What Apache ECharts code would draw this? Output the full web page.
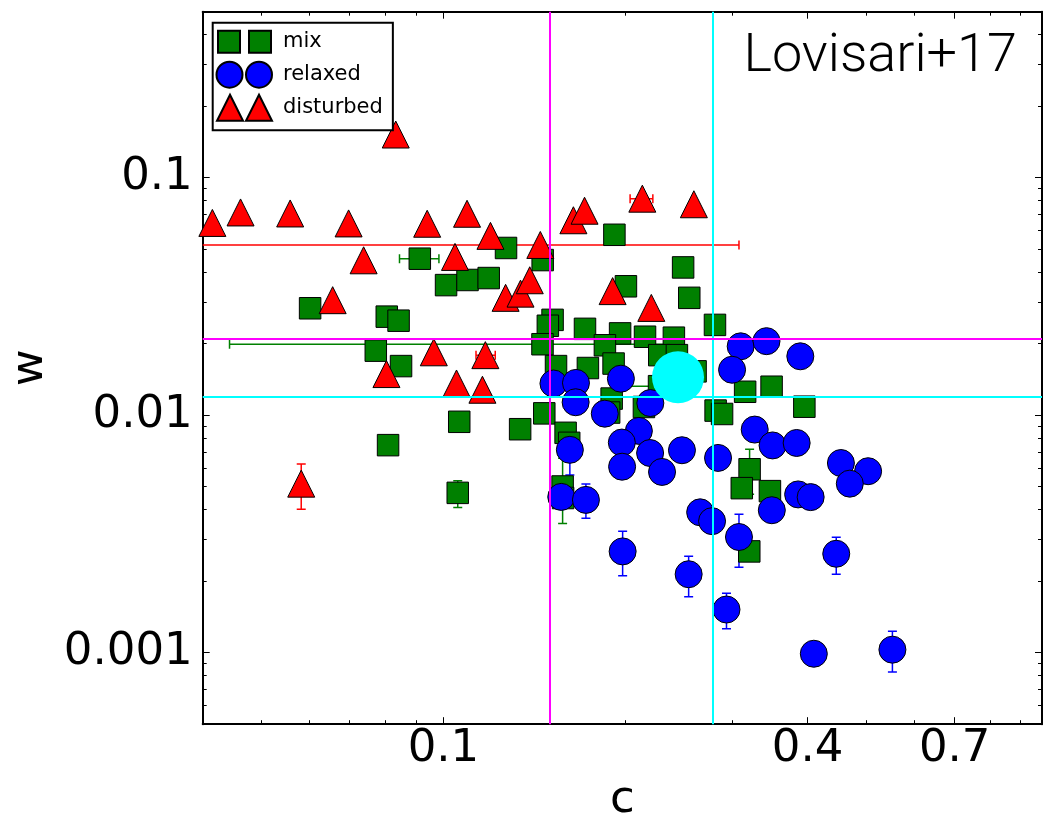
<!DOCTYPE html>
<html>
<head>
<meta charset="utf-8">
<script src="https://cdn.jsdelivr.net/npm/echarts@6.0.0/dist/echarts.min.js"></script>
<style>
html,body{margin:0;padding:0;background:#fff;}
#chart{width:1045px;height:819px;}
</style>
</head>
<body>
<div id="chart"></div>
<script>
// ---------------- data ----------------
// [c, w]
const mixPoints = [
  [0.0602,0.0282],[0.0806,0.0260],[0.0843,0.0250],[0.0914,0.0456],[0.1010,0.0353],[0.1096,0.0371],
  [0.1188,0.0378],[0.1269,0.0506],[0.1459,0.0450],[0.1917,0.0575],[0.2490,0.0419],[0.2003,0.0349],
  [0.2549,0.0312],[0.2811,0.0240],[0.1515,0.0252],[0.1488,0.0238],[0.1714,0.0231],[0.1959,0.0221],
  [0.2154,0.0214],[0.2404,0.0212],[0.1458,0.0199],[0.1849,0.0197],[0.1535,0.0161],[0.1733,0.0158],
  [0.1911,0.0165],[0.2274,0.0179],[0.2432,0.0179],[0.2611,0.0153],[0.1897,0.01175],[0.1879,0.01026],
  [0.2145,0.01083],[0.2272,0.01325],[0.3153,0.01255],[0.3487,0.01318],[0.2818,0.01046],[0.2888,0.01012],
  [0.3950,0.01086],[0.1468,0.01018],[0.1339,0.00873],[0.1592,0.00843],[0.1614,0.00765],[0.1574,0.00501],
  [0.1577,0.00448],[0.1062,0.00938],[0.0810,0.00748],[0.1056,0.00471],[0.0773,0.0187],[0.0851,0.0161],
  [0.3207,0.00592],[0.3113,0.00493],[0.3465,0.00479],[0.3203,0.00267]
];
const relaxedPoints = [
  [0.310,0.0195],[0.342,0.0205],[0.389,0.0177],[0.300,0.01554],[0.152,0.0136],[0.1656,0.01368],
  [0.1965,0.01425],[0.1654,0.01134],[0.1848,0.01015],[0.2198,0.01125],[0.2104,0.00859],[0.1972,0.00767],
  [0.2196,0.00693],[0.2479,0.00712],[0.1974,0.00607],[0.2298,0.00577],[0.1618,0.00715],[0.2844,0.00661],
  [0.327,0.0087],[0.350,0.00746],[0.3836,0.00764],[0.454,0.00629],[0.5035,0.00581],[0.4696,0.00515],
  [0.3858,0.00464],[0.4046,0.00452],[0.349,0.00398],[0.2657,0.0039],[0.278,0.00358],[0.308,0.00307],
  [0.1566,0.00453],[0.172,0.0044],[0.1978,0.00267],[0.2543,0.00214],[0.2937,0.00152],[0.446,0.00261],
  [0.4095,0.00099],[0.5523,0.00103]
];
const disturbedPoints = [
  [0.0415,0.0645],[0.0462,0.0714],[0.0558,0.0707],[0.0697,0.0642],[0.0738,0.0449],[0.0656,0.0305],
  [0.0834,0.152],[0.094,0.064],[0.1094,0.0705],[0.1196,0.0569],[0.1045,0.0464],[0.0964,0.0184],
  [0.1173,0.0179],[0.0805,0.0149],[0.1051,0.0136],[0.116,0.0128],[0.1267,0.0312],[0.1341,0.0325],
  [0.1389,0.037],[0.1446,0.0521],[0.164,0.0662],[0.1711,0.0726],[0.1904,0.0333],[0.2132,0.0816],
  [0.2206,0.0283],[0.2594,0.0773],[0.0582,0.00515]
];
// error bars: [c, w, cLow, cHigh, wLow, wHigh]  (null = no bar)
const mixErrors = [
  [0.0914,0.0456,0.0846,0.0983,null,null],
  [0.1458,0.0199,0.0443,0.247,null,null],
  [0.2272,0.01325,0.1982,0.256,null,null],
  [0.1574,0.00501,null,null,0.0035,0.00659],
  [0.1056,0.00471,null,null,0.00409,0.0053],
  [0.3207,0.00592,null,null,0.00465,0.00719]
];
const relaxedErrors = [
  [0.1618,0.00715,null,null,0.0056,0.00909],
  [0.172,0.0044,null,null,0.00368,0.00513],
  [0.1978,0.00267,null,null,0.00211,0.00325],
  [0.2543,0.00214,null,null,0.00172,0.00255],
  [0.2937,0.00152,null,null,0.00126,0.00178],
  [0.308,0.00307,null,null,0.00229,0.00383],
  [0.446,0.00261,null,null,0.00214,0.00306],
  [0.5523,0.00103,null,null,0.00083,0.00123]
];
const disturbedErrors = [
  [0.1446,0.0521,0.03,0.308,null,null],
  [0.2132,0.0816,0.2035,0.2219,null,null],
  [0.1173,0.0179,0.1132,0.1218,null,null],
  [0.0582,0.00515,null,null,0.00402,0.00623]
];
// reference (Lovisari+17) point and median lines
const refPoint = [[0.2442,0.01445]];
const magentaC = 0.150, cyanC = 0.2788;
const magentaW = 0.0209, cyanW = 0.01193;

const seriesNames = ['mix','relaxed','disturbed'];
const xRange = [0.04, 0.976];
const yRange = [0.0005, 0.5];
const xMinorTicks = [0.05,0.06,0.07,0.08,0.09,0.2,0.3,0.5,0.6,0.8,0.9];
const xMajorTicks = [0.1,0.4,0.7];
const xTickLabels = ['0.1','0.4','0.7'];
const yMinorTicks = [0.0006,0.0007,0.0008,0.0009,0.002,0.003,0.004,0.005,0.006,0.007,0.008,0.009,
                     0.02,0.03,0.04,0.05,0.06,0.07,0.08,0.09,0.2,0.3,0.4];
const yMajorTicks = [0.001,0.01,0.1];
const yTickLabels = ['0.001','0.01','0.1'];
const xName = 'c', yName = 'w', annotation = 'Lovisari+17';

// ---------------- chart ----------------
const FONT = 'DejaVu Sans';
function lookup(vals, labels) {
  return function (v) {
    for (let i = 0; i < vals.length; i++) {
      if (Math.abs(vals[i] - v) / vals[i] < 1e-6) return labels[i];
    }
    return '';
  };
}
function axis(kind, pos, ticks, len, showLine, withLabels) {
  const isX = kind === 'x';
  const range = isX ? xRange : yRange;
  const a = {
    type: 'log', logBase: 10, gridIndex: 0, position: pos,
    min: range[0], max: range[1],
    axisLine: {show: showLine, onZero: false, lineStyle: {color: '#000', width: 2}},
    axisTick: {show: true, inside: true, length: len, customValues: ticks, lineStyle: {color: '#000', width: 1}},
    splitLine: {show: false}, minorTick: {show: false}, minorSplitLine: {show: false},
    axisLabel: {show: false},
    axisPointer: {show: false}
  };
  if (withLabels) {
    a.axisLabel = {
      show: true,
      customValues: isX ? xMajorTicks : yMajorTicks,
      formatter: isX ? lookup(xMajorTicks, xTickLabels) : lookup(yMajorTicks, yTickLabels),
      margin: isX ? 3 : 10,
      fontFamily: FONT, fontSize: 45, color: '#000'
    };
    a.name = isX ? xName : yName;
    a.nameLocation = 'middle';
    a.nameGap = isX ? 54 : 146;
    a.nameTextStyle = {fontFamily: FONT, fontSize: 45, color: '#000'};
  }
  return a;
}

function errRenderer(color) {
  return function (params, api) {
    const c = api.value(0), w = api.value(1);
    const cLo = api.value(2), cHi = api.value(3), wLo = api.value(4), wHi = api.value(5);
    const cs = params.coordSys;
    const x0 = cs.x, x1 = cs.x + cs.width, y0 = cs.y, y1 = cs.y + cs.height;
    const cl = v => Math.max(x0, Math.min(x1, v));
    const clY = v => Math.max(y0, Math.min(y1, v));
    const style = {stroke: color, lineWidth: 1.5};
    const kids = [];
    const ok = v => v != null && isFinite(v) && v > 0;
    const half = 4.5;
    if (ok(cLo) && ok(cHi)) {
      const pa = api.coord([cLo, w]), pb = api.coord([cHi, w]);
      kids.push({type: 'line', shape: {x1: cl(pa[0]), y1: pa[1], x2: cl(pb[0]), y2: pb[1]}, style: style});
      [pa, pb].forEach(p => {
        if (p[0] >= x0 && p[0] <= x1) kids.push({type: 'line', shape: {x1: p[0], y1: p[1] - half, x2: p[0], y2: p[1] + half}, style: style});
      });
    }
    if (ok(wLo) && ok(wHi)) {
      const pa = api.coord([c, wLo]), pb = api.coord([c, wHi]);
      kids.push({type: 'line', shape: {x1: pa[0], y1: clY(pa[1]), x2: pb[0], y2: clY(pb[1])}, style: style});
      [pa, pb].forEach(p => {
        if (p[1] >= y0 && p[1] <= y1) kids.push({type: 'line', shape: {x1: p[0] - half, y1: p[1], x2: p[0] + half, y2: p[1]}, style: style});
      });
    }
    return {type: 'group', children: kids};
  };
}
function errSeries(name, data, color) {
  return {
    name: name, type: 'custom', xAxisIndex: 0, yAxisIndex: 0, clip: true, silent: true,
    renderItem: errRenderer(color), encode: {x: 0, y: 1},
    data: data.map(r => r.map(v => (v == null ? NaN : v))), animation: false
  };
}

const green = '#008000', blue = '#0000ff', red = '#ff0000';
const legendIcons = {
  mix: 'path://M0,0L0,0M57,27L57,27M2,2.5L24,2.5L24,24.5L2,24.5ZM33,2.5L55,2.5L55,24.5L33,24.5Z',
  relaxed: 'path://M0,0L0,0M57,27L57,27M0.5,13.5a13,13 0 1,0 26,0a13,13 0 1,0 -26,0ZM30,13.5a13,13 0 1,0 26,0a13,13 0 1,0 -26,0Z',
  disturbed: 'path://M0,0L0,0M57,27L57,27M14,0.5L27,26.5L1,26.5ZM43,0.5L56,26.5L30,26.5Z'
};

const chart = echarts.init(document.getElementById('chart'), null, {renderer: 'canvas'});
const option = {
  animation: false,
  backgroundColor: '#fff',
  grid: {left: 202.7, right: 3, top: 11.7, bottom: 94.8, containLabel: false, outerBoundsMode: 'none', show: false},
  xAxis: [
    axis('x', 'bottom', xMinorTicks, 4, true, true),
    axis('x', 'bottom', xMajorTicks, 7, false, false),
    axis('x', 'top', xMinorTicks, 4, true, false),
    axis('x', 'top', xMajorTicks, 7, false, false)
  ],
  yAxis: [
    axis('y', 'left', yMinorTicks, 4, true, true),
    axis('y', 'left', yMajorTicks, 7, false, false),
    axis('y', 'right', yMinorTicks, 4, true, false),
    axis('y', 'right', yMajorTicks, 7, false, false)
  ],
  legend: {
    orient: 'vertical', left: 212.7, top: 22.7,
    itemWidth: 57, itemHeight: 27, itemGap: 4,
    padding: [4.5, 10, 8, 2.3],
    borderColor: '#000', borderWidth: 2, backgroundColor: '#fff',
    selectedMode: false,
    textStyle: {fontFamily: FONT, fontSize: 21, color: '#000', padding: [0, 0, 0, 5]},
    data: seriesNames.map(n => ({name: n, icon: legendIcons[n]}))
  },
  graphic: [{
    type: 'text', right: 28, top: 30, silent: true,
    style: {text: annotation, fontFamily: 'Roboto', fontWeight: 300, fontSize: 54, fill: '#000'}
  }],
  series: [
    errSeries('mix-err', mixErrors, green),
    {
      name: seriesNames[0], type: 'scatter', xAxisIndex: 0, yAxisIndex: 0,
      symbol: 'rect', symbolSize: 21.5, data: mixPoints,
      itemStyle: {color: green, borderColor: '#000', borderWidth: 1, opacity: 1}
    },
    errSeries('relaxed-err', relaxedErrors, blue),
    {
      name: seriesNames[1], type: 'scatter', xAxisIndex: 0, yAxisIndex: 0,
      symbol: 'circle', symbolSize: 27, data: relaxedPoints,
      itemStyle: {color: blue, borderColor: '#000', borderWidth: 1, opacity: 1}
    },
    errSeries('disturbed-err', disturbedErrors, red),
    {
      name: seriesNames[2], type: 'scatter', xAxisIndex: 0, yAxisIndex: 0,
      symbol: 'triangle', symbolSize: 27, data: disturbedPoints,
      itemStyle: {color: red, borderColor: '#000', borderWidth: 1, opacity: 1}
    },
    {
      name: 'Lovisari+17 point', type: 'scatter', xAxisIndex: 0, yAxisIndex: 0,
      symbol: 'circle', symbolSize: 52, data: refPoint,
      itemStyle: {color: '#00ffff', borderWidth: 0, opacity: 1},
      markLine: {
        silent: true, symbol: ['none', 'none'], animation: false, z: 10,
        precision: 8,
        label: {show: false},
        emphasis: {disabled: true},
        data: [
          {xAxis: magentaC, lineStyle: {color: '#ff00ff', width: 2, type: 'solid'}},
          {xAxis: cyanC, lineStyle: {color: '#00ffff', width: 2, type: 'solid'}},
          {yAxis: magentaW, lineStyle: {color: '#ff00ff', width: 2, type: 'solid'}},
          {yAxis: cyanW, lineStyle: {color: '#00ffff', width: 2, type: 'solid'}}
        ]
      }
    }
  ]
};
chart.setOption(option);
</script>
</body>
</html>
